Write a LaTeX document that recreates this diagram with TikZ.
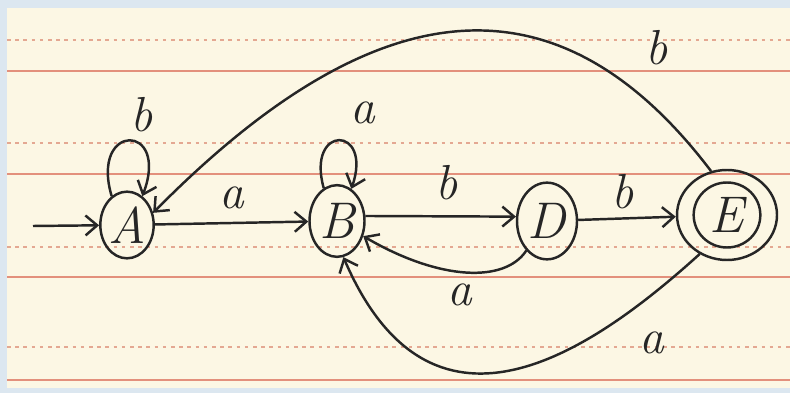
\documentclass[tikz,border=0pt]{standalone}
\usepackage{tikz}
\usetikzlibrary{arrows.meta,shapes.geometric}
\definecolor{PaperCream}{HTML}{FCF7E4}
\definecolor{PaperBlue}{HTML}{DCE7F0}
\definecolor{RuleRed}{HTML}{E3907C}
\definecolor{RuleDash}{HTML}{E4A892}
\definecolor{InkGray}{HTML}{262626}

\begin{document}
\begin{tikzpicture}[x=0.03cm,y=0.03cm,
    stnode/.style={ellipse,draw=InkGray,line width=2.1pt,inner sep=0pt,text=InkGray,
      font=\fontsize{44}{44}\selectfont\itshape},
    trans/.style={draw=InkGray,line width=2.1pt,-{Straight Barb[length=10pt,width=17pt,line width=2.1pt]}},
    lbl/.style={text=InkGray,font=\fontsize{42}{42}\selectfont\itshape}]
        \useasboundingbox (0,0) rectangle (790,393);
        % lined paper
        \fill[PaperBlue] (0,0) rectangle (790,393);
        \fill[PaperCream] (7,5) rectangle (790,385);
        \foreach \yy in {353,250,146,46}
          \draw[RuleDash,line width=1.2pt,dash pattern=on 3pt off 4pt] (7,\yy) -- (790,\yy);
        \foreach \yy in {322,219,116,13}
          \draw[RuleRed,line width=1.8pt] (7,\yy) -- (790,\yy);

        % states
        \node[stnode,minimum width=1.6cm,minimum height=2cm] (A) at (127,168) {A};
        \node[stnode,minimum width=1.65cm,minimum height=2.15cm] (B) at (337,172) {B};
        \node[stnode,minimum width=1.8cm,minimum height=2.3cm] (D) at (547,172) {D};
        \node[stnode,minimum width=2cm,minimum height=1.95cm] (Ein) at (727,178) {E};
        \node[ellipse,draw=InkGray,line width=2.1pt,minimum width=3cm,minimum height=2.7cm] (E) at (727,178) {};
        \coordinate (init) at (33,167);

        % transitions
        \draw[trans] (init) -- (A);
        \draw[trans] (A) -- (B);
        \draw[trans] (B.10) -- (D.172);
        \draw[trans] (D) -- (E);
        \draw[trans] (A.118) .. controls +(-22,74) and +(28,74) .. (A.62);
        \draw[trans] (B.112) .. controls +(-18,64) and +(22,64) .. (B.66);
        \draw[trans] (D.235) .. controls (505,110) and (440,112) .. (B.-30);
        \draw[trans] (E.235) .. controls (585,35) and (430,-65) .. (B.-80);
        \draw[trans] (E.110) .. controls (557,425) and (375,405) .. (A.25);

        % labels
        \node[lbl] (lAA) at (142,278) {b};
        \node[lbl] (lBB) at (363,280) {a};
        \node[lbl] (lAB) at (232,195) {a};
        \node[lbl] (lBD) at (447,210) {b};
        \node[lbl] (lDE) at (623,201) {b};
        \node[lbl] (lDB) at (460,98) {a};
        \node[lbl] (lEB) at (652,50) {a};
        \node[lbl] (lEA) at (657,345) {b};
      \end{tikzpicture}
\end{document}
